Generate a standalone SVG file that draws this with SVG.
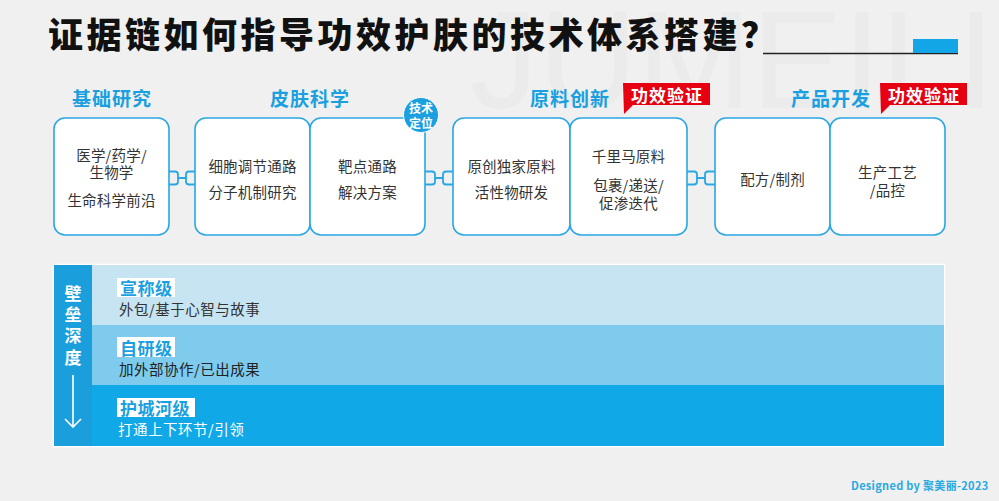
<svg xmlns="http://www.w3.org/2000/svg" width="999" height="501" viewBox="0 0 999 501">
<defs>
<style>
.cn{font-family:"Noto Sans CJK SC","Noto Sans",sans-serif;}
.title{font-size:35px;font-weight:900;fill:#111;letter-spacing:3.5px;}
.head{font-size:19px;font-weight:700;fill:#1a9fe0;letter-spacing:1px;text-anchor:middle;}
.box{fill:#fff;stroke:#2aa7e3;stroke-width:1.6;}
.bt{font-size:14.5px;fill:#333;text-anchor:middle;dominant-baseline:central;letter-spacing:0.2px;}
.tag{fill:#e60012;}
.tagt{font-size:17px;font-weight:700;fill:#fff;text-anchor:middle;dominant-baseline:central;letter-spacing:1px;}
.chain{fill:none;stroke:#2aa7e3;stroke-width:1.8;stroke-linecap:round;}
.dot{fill:#d9d9d9;}
.lbl{font-size:17px;font-weight:700;fill:#1a9fe0;dominant-baseline:central;letter-spacing:0.5px;}
.sub{font-size:14.5px;dominant-baseline:central;letter-spacing:0.5px;}
.vt{font-size:17px;font-weight:700;fill:#fff;text-anchor:middle;dominant-baseline:central;}
</style>
<g id="chainShape">
<circle class="dot" cx="-21" cy="-6" r="2.5"/>
<path class="chain" d="M -17 -6.5 H -7 Q -4 -6.5 -4 -3.5 V 3.5 Q -4 6.5 -7 6.5 H -17 Q -20 6.5 -20 3.5 V 0"/>
<path class="chain" d="M -4 0 H 4"/>
<path class="chain" d="M 17 6.5 H 7 Q 4 6.5 4 3.5 V -3.5 Q 4 -6.5 7 -6.5 H 17 Q 20 -6.5 20 -3.5 V 0"/>
<circle class="dot" cx="21" cy="6" r="2.5"/>
</g>
</defs>
<rect width="999" height="501" fill="#f0f0f0"/>
<text x="470" y="108" font-family="Liberation Sans, sans-serif" font-weight="400" font-size="140" fill="#ebebeb" textLength="525" lengthAdjust="spacingAndGlyphs">JUMEILI</text>

<g id="title">
<text class="cn title" x="48" y="48">证据链如何指导功效护肤的技术体系搭建？</text>
<line x1="763" y1="53.5" x2="958" y2="53.5" stroke="#222" stroke-width="1.5"/>
<rect x="913" y="39" width="45" height="14" fill="#12a6e6"/>
</g>

<g id="headers">
<text class="cn head" x="112" y="106">基础研究</text>
<text class="cn head" x="310" y="106">皮肤科学</text>
<text class="cn head" x="570" y="106">原料创新</text>
<text class="cn head" x="831" y="106">产品开发</text>
</g>

<g id="connectors">
<use href="#chainShape" x="182" y="178"/>
<use href="#chainShape" x="439" y="178"/>
<use href="#chainShape" x="701" y="178"/>
</g>

<g id="box1">
<rect class="box" x="54" y="118" width="115" height="117" rx="11"/>
<text class="cn bt" x="111.5" y="154">医学/药学/</text>
<text class="cn bt" x="111.5" y="171">生物学</text>
<text class="cn bt" x="111.5" y="199">生命科学前沿</text>
</g>
<g id="box2">
<rect class="box" x="195" y="118" width="115" height="117" rx="11"/>
<text class="cn bt" x="252.5" y="165">细胞调节通路</text>
<text class="cn bt" x="252.5" y="191">分子机制研究</text>
</g>
<g id="box3">
<rect class="box" x="310" y="118" width="115" height="117" rx="11"/>
<text class="cn bt" x="367.5" y="165">靶点通路</text>
<text class="cn bt" x="367.5" y="191">解决方案</text>
</g>
<g id="badge">
<circle cx="421" cy="115" r="17.5" fill="#1a9fe0" stroke="#fff" stroke-width="1"/>
<text class="cn" x="421" y="107.5" font-size="12" font-weight="700" fill="#fff" text-anchor="middle" dominant-baseline="central">技术</text>
<text class="cn" x="421" y="122.5" font-size="12" font-weight="700" fill="#fff" text-anchor="middle" dominant-baseline="central">定位</text>
</g>
<g id="box4">
<rect class="box" x="453" y="118" width="117" height="117" rx="11"/>
<text class="cn bt" x="511.5" y="165">原创独家原料</text>
<text class="cn bt" x="511.5" y="191">活性物研发</text>
</g>
<g id="box5">
<rect class="box" x="570" y="118" width="117" height="117" rx="11"/>
<text class="cn bt" x="628.5" y="155.5">千里马原料</text>
<text class="cn bt" x="628.5" y="184">包裹/递送/</text>
<text class="cn bt" x="628.5" y="202">促渗迭代</text>
</g>
<g id="tag1">
<path class="tag" d="M 623 83 H 710 V 105 H 633 L 624 114 Z"/>
<text class="cn tagt" x="667" y="94">功效验证</text>
</g>
<g id="box6">
<rect class="box" x="715" y="118" width="115" height="117" rx="11"/>
<text class="cn bt" x="772.5" y="178">配方/制剂</text>
</g>
<g id="box7">
<rect class="box" x="830" y="118" width="115" height="117" rx="11"/>
<text class="cn bt" x="887.5" y="171">生产工艺</text>
<text class="cn bt" x="887.5" y="189">/品控</text>
</g>
<g id="tag2">
<path class="tag" d="M 880 83 H 967 V 105 H 890 L 881 114 Z"/>
<text class="cn tagt" x="924" y="94">功效验证</text>
</g>

<g id="depth">
<rect x="53.5" y="264.5" width="891" height="182" fill="none" stroke="#fff" stroke-width="1.5"/>
<rect x="92" y="265" width="852" height="60" fill="#c6e4f2"/>
<rect x="92" y="325" width="852" height="60" fill="#7ecbee"/>
<rect x="92" y="385" width="852" height="61" fill="#10a8e7"/>
<rect x="54" y="265" width="38" height="181" fill="#1a9fdc"/>
<text class="cn vt" x="73" y="292">壁</text>
<text class="cn vt" x="73" y="313">垒</text>
<text class="cn vt" x="73" y="334">深</text>
<text class="cn vt" x="73" y="356">度</text>
<path d="M 73 375 V 427 M 65 419 L 73 427 L 81 419" fill="none" stroke="#fff" stroke-width="1.6"/>
</g>
<g id="level1">
<rect x="117" y="278" width="58" height="19" fill="#fff"/>
<text class="cn lbl" x="120" y="287.5">宣称级</text>
<text class="cn sub" x="119" y="308" fill="#333">外包/基于心智与故事</text>
</g>
<g id="level2">
<rect x="117" y="337" width="58" height="20" fill="#fff"/>
<text class="cn lbl" x="120" y="347">自研级</text>
<text class="cn sub" x="119" y="368" fill="#222">加外部协作/已出成果</text>
</g>
<g id="level3">
<rect x="117" y="398" width="78" height="19" fill="#fff"/>
<text class="cn lbl" x="120" y="407.5">护城河级</text>
<text class="cn sub" x="118" y="428" fill="#fff">打通上下环节/引领</text>
</g>

<text class="cn" x="851" y="490" font-size="11" font-weight="700" fill="#29a9e0" letter-spacing="0.3">Designed by 聚美丽-2023</text>
</svg>
